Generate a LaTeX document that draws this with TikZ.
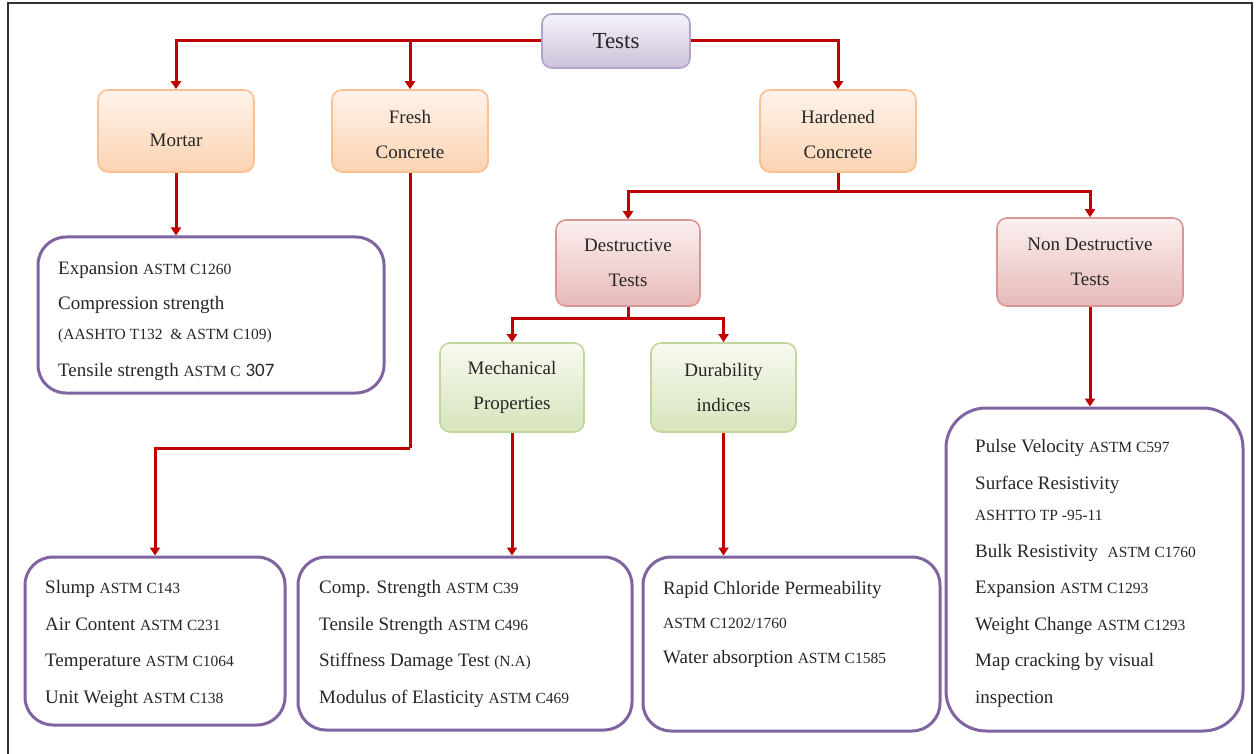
\documentclass[tikz,border=0pt]{standalone}
\usepackage{fontspec}
\setmainfont{Liberation Serif}
\newfontfamily\calib{Carlito}
\usetikzlibrary{arrows.meta}
\definecolor{redln}{HTML}{C00000}
\definecolor{purp}{HTML}{8064A2}
\definecolor{orB}{HTML}{FAC090}
\definecolor{orT}{HTML}{FFF3EA}
\definecolor{orD}{HTML}{FBD3B2}
\definecolor{pkB}{HTML}{D99694}
\definecolor{pkT}{HTML}{FCF0F0}
\definecolor{pkD}{HTML}{E6B9B8}
\definecolor{grB}{HTML}{C3D69B}
\definecolor{grT}{HTML}{F7FAF0}
\definecolor{grD}{HTML}{D7E4BD}
\definecolor{lvB}{HTML}{B3A2C7}
\definecolor{lvT}{HTML}{F6F3FA}
\definecolor{lvD}{HTML}{CCC1DA}
\definecolor{txt}{HTML}{262626}
\newcommand{\astm}[1]{{\fontsize{15.5}{20}\selectfont #1}}
\tikzset{
  catbox/.style={draw, line width=1.6pt, rounded corners=10pt, inner sep=0pt,
    align=center, text=txt, font=\fontsize{19}{35}\selectfont},
  orbox/.style={catbox, draw=orB, top color=orT, bottom color=orD,
    minimum width=156pt, minimum height=82pt},
  pkbox/.style={catbox, draw=pkB, top color=pkT, bottom color=pkD},
  grbox/.style={catbox, draw=grB, top color=grT, bottom color=grD,
    minimum width=144pt, minimum height=89pt},
  lvbox/.style={catbox, draw=lvB, top color=lvT, bottom color=lvD,
    font=\fontsize{23}{28}\selectfont},
  listbox/.style={draw=purp, line width=3pt, rounded corners=28pt, inner sep=0pt},
  listtxt/.style={anchor=base west, align=left, inner sep=0pt, text=txt},
  conn/.style={draw=redln, line width=3pt, -{Triangle[width=10pt,length=8pt]}},
  plain/.style={draw=redln, line width=3pt},
  frame/.style={draw=black!80, line width=1.5pt}
}
\begin{document}
\begin{tikzpicture}[x=1pt,y=-1pt]
\useasboundingbox (0,0) rectangle (1256,754);
\draw[frame] (8,3) rectangle (1252,760);

% category nodes
\node[lvbox, minimum width=148pt, minimum height=54pt] (tests) at (616,41) {Tests};
\node[orbox, text height=31pt, text depth=0pt] (mortar) at (176,131) {Mortar};
\node[orbox, text height=56pt, text depth=0pt] (fresh) at (410,131) {Fresh\\Concrete};
\node[orbox, text height=56pt, text depth=0pt] (hard) at (838,131) {Hardened\\Concrete};
\node[pkbox, minimum width=144pt, minimum height=86pt] (dest) at (628,263) {Destructive\\Tests};
\node[pkbox, minimum width=186pt, minimum height=88pt] (ndt) at (1090,262) {Non Destructive\\Tests};
\node[grbox] (mech) at (512,387.5) {Mechanical\\Properties};
\node[grbox, minimum width=145pt] (dur) at (723.5,387.5) {Durability\\indices};

% list boxes
\node[listbox, minimum width=346pt, minimum height=156pt] (mbox) at (211,315) {};
\node[listbox, minimum width=260pt, minimum height=168pt] (sbox) at (155,641) {};
\node[listbox, minimum width=334pt, minimum height=173pt] (cbox) at (465,643.5) {};
\node[listbox, minimum width=297pt, minimum height=174pt] (rbox) at (791.5,644) {};
\node[listbox, minimum width=297pt, minimum height=323pt, rounded corners=40pt] (nbox) at (1094.5,569.5) {};

% list texts (anchored at the baseline of the last line)
\node[listtxt, font=\fontsize{19}{35}\selectfont] (mtxt) at (58,376)
  {Expansion \astm{ASTM C1260}\\
   Compression strength\\[-5pt]
   \astm{(AASHTO T132 \ \& ASTM C109)}\\[2pt]
   Tensile strength \astm{ASTM C} {\calib\fontsize{19}{20}\selectfont 307}};
\node[listtxt, font=\fontsize{19}{36.5}\selectfont] (stxt) at (45,703)
  {Slump \astm{ASTM C143}\\
   Air Content \astm{ASTM C231}\\
   Temperature \astm{ASTM C1064}\\
   Unit Weight \astm{ASTM C138}};
\node[listtxt, font=\fontsize{19}{36.5}\selectfont] (ctxt) at (319,703)
  {Comp. Strength \astm{ASTM C39}\\
   Tensile Strength \astm{ASTM C496}\\
   Stiffness Damage Test \astm{(N.A)}\\
   Modulus of Elasticity \astm{ASTM C469}};
\node[listtxt, font=\fontsize{19}{34.5}\selectfont] (rtxt) at (663,663)
  {Rapid Chloride Permeability\\
   \astm{ASTM C1202/1760}\\
   Water absorption \astm{ASTM C1585}};
\node[listtxt, font=\fontsize{19}{36.5}\selectfont] (ntxt) at (975,703)
  {Pulse Velocity \astm{ASTM C597}\\
   Surface Resistivity\\[-5pt]
   \astm{ASHTTO TP -95-11}\\
   Bulk Resistivity \ \astm{ASTM C1760}\\
   Expansion \astm{ASTM C1293}\\
   Weight Change \astm{ASTM C1293}\\
   Map cracking by visual\\
   inspection};

% connectors
\coordinate (fj) at (410,448);
\coordinate (hj) at (838,192);
\coordinate (dj) at (628,318);
\draw[conn] (tests.west) -| (mortar.north);
\draw[conn] (tests.east) -| (hard.north);
\draw[conn] (fresh.north |- tests.west) -- (fresh.north);
\draw[conn] (mortar.south) -- (mortar.south |- mbox.north);
\draw[plain] (fresh.south) -- (fj);
\draw[conn] (fj) -| (sbox.north);
\draw[plain] (hard.south) -- (hj);
\draw[conn] (hj) -| (dest.north);
\draw[conn] (hj) -| (ndt.north);
\draw[plain] (dest.south) -- (dj);
\draw[conn] (dj) -| (mech.north);
\draw[conn] (dj) -| (dur.north);
\draw[conn] (mech.south) -- (mech.south |- cbox.north);
\draw[conn] (dur.south) -- (dur.south |- rbox.north);
\draw[conn] (ndt.south) -- (ndt.south |- nbox.north);
\end{tikzpicture}
\end{document}
